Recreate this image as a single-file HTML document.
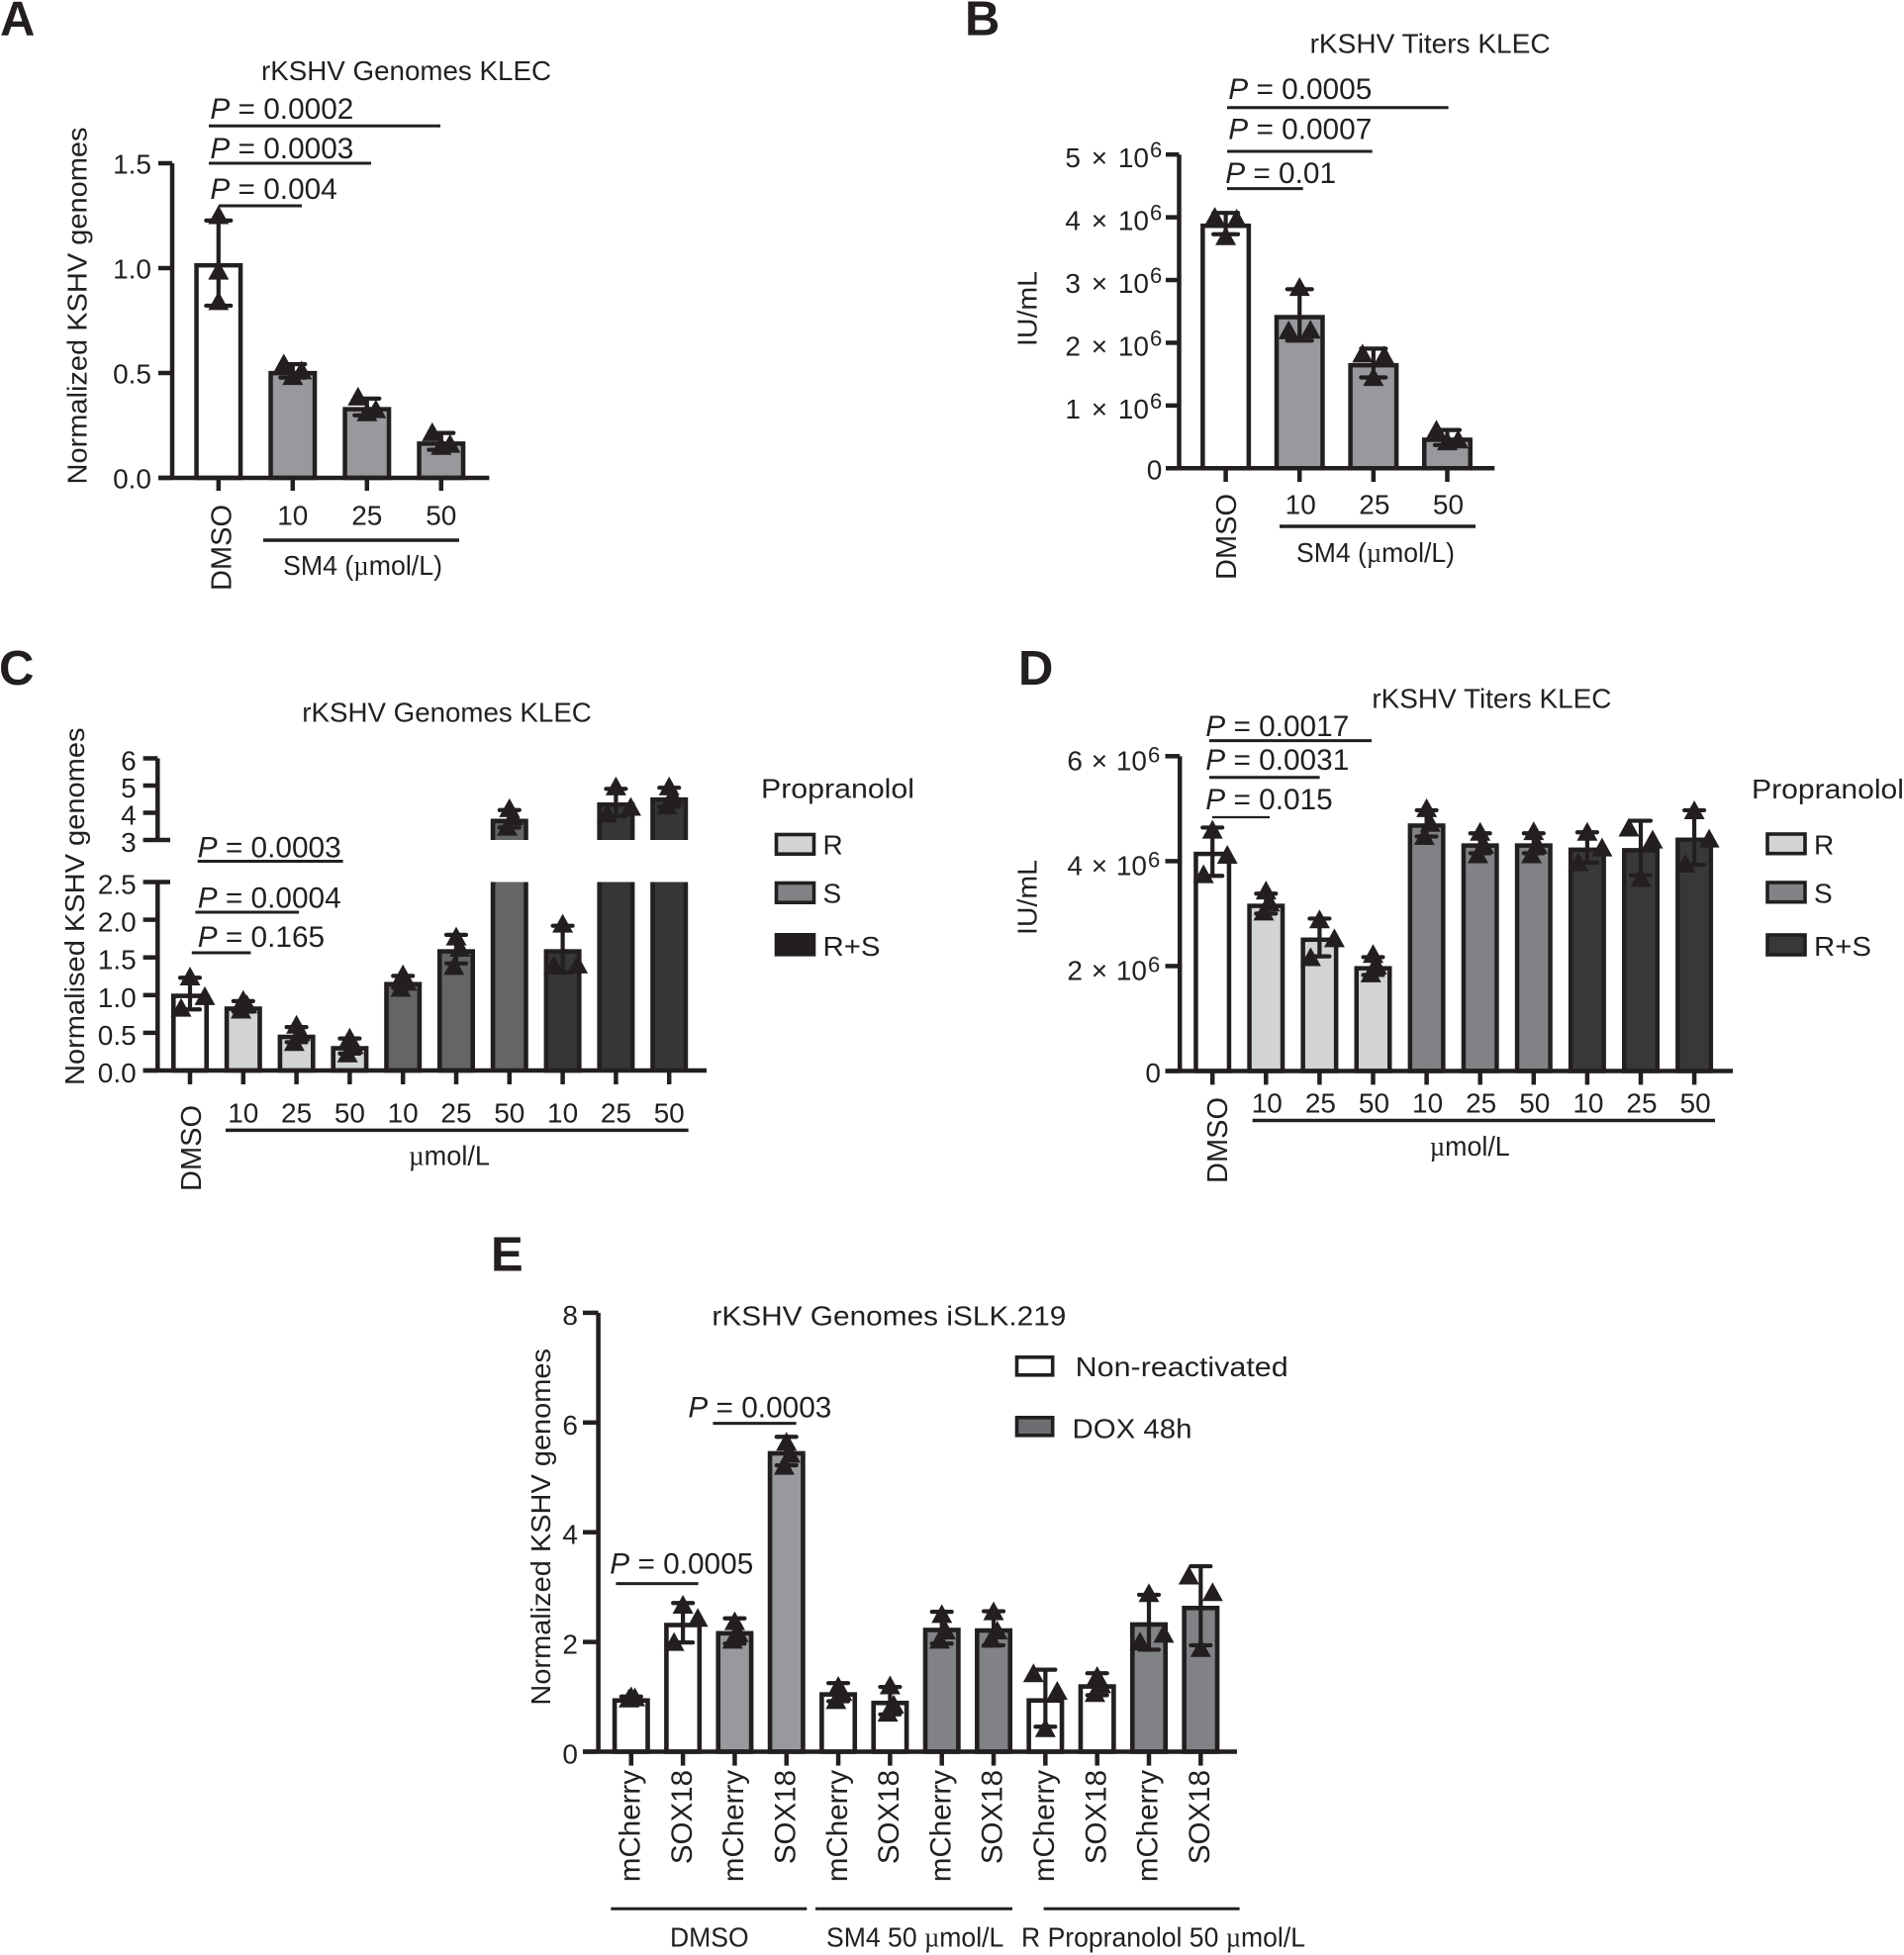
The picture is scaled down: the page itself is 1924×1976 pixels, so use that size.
<!DOCTYPE html>
<html lang="en">
<head>
<meta charset="utf-8">
<title>KSHV genomes and titers</title>
<style>
html,body{margin:0;padding:0;background:#fff;}
svg{display:block;}
text{font-family:"Liberation Sans",sans-serif;font-size:28px;fill:#231f20;}
.letter{font-weight:bold;font-size:49px;}
.p{font-size:29.8px;}
.p tspan{font-style:italic;}
.mu{font-family:"Liberation Serif",serif;}
.line{stroke:#231f20;stroke-width:3;fill:none;}
.sw{stroke:#231f20;stroke-width:3.6;}
</style>
</head>
<body>
<svg id="figure" width="1924" height="1976" viewBox="0 0 1924 1976">
<rect x="0" y="0" width="1924" height="1976" fill="#fff"/>

<g id="panel-a">
<text class="letter" x="0" y="35.6">A</text>
<text x="264" y="81" textLength="293" lengthAdjust="spacingAndGlyphs">rKSHV Genomes KLEC</text>
<text transform="translate(87.3,489.5) rotate(-90)" textLength="361" lengthAdjust="spacingAndGlyphs">Normalized KSHV genomes</text>
<text class="p" x="212.4" y="120"><tspan>P</tspan> = 0.0002</text>
<line class="line" x1="211" x2="445" y1="127.3" y2="127.3"/>
<text class="p" x="212.4" y="160"><tspan>P</tspan> = 0.0003</text>
<line class="line" x1="211" x2="375" y1="165" y2="165"/>
<text class="p" x="212.4" y="201"><tspan>P</tspan> = 0.004</text>
<line class="line" x1="221" x2="305" y1="208" y2="208"/>
<line class="line" style="stroke-width:3.5" x1="266" x2="464" y1="546" y2="546"/>
<text x="286" y="581" textLength="161" lengthAdjust="spacingAndGlyphs">SM4 (<tspan class="mu">µ</tspan>mol/L)</text>
</g>

<g id="panel-b">
<text class="letter" x="975" y="35.6">B</text>
<text x="1323.6" y="53.4" textLength="243" lengthAdjust="spacingAndGlyphs">rKSHV Titers KLEC</text>
<text transform="translate(1047.3,350) rotate(-90)" textLength="76" lengthAdjust="spacingAndGlyphs">IU/mL</text>
<text class="p" x="1241.3" y="100"><tspan>P</tspan> = 0.0005</text>
<line class="line" x1="1240" x2="1463.6" y1="108.7" y2="108.7"/>
<text class="p" x="1241.3" y="140.4"><tspan>P</tspan> = 0.0007</text>
<line class="line" x1="1240" x2="1386.7" y1="153" y2="153"/>
<text class="p" x="1238.2" y="185"><tspan>P</tspan> = 0.01</text>
<line class="line" x1="1240" x2="1316.7" y1="190.6" y2="190.6"/>
<line class="line" style="stroke-width:3.5" x1="1293" x2="1491" y1="532" y2="532"/>
<text x="1310" y="568" textLength="160" lengthAdjust="spacingAndGlyphs">SM4 (<tspan class="mu">µ</tspan>mol/L)</text>
</g>

<g id="panel-c">
<text class="letter" x="-1" y="691.8">C</text>
<text x="305.3" y="729.5" textLength="292.5" lengthAdjust="spacingAndGlyphs">rKSHV Genomes KLEC</text>
<text transform="translate(85,1097) rotate(-90)" textLength="361.5" lengthAdjust="spacingAndGlyphs">Normalised KSHV genomes</text>
<text class="p" x="199.7" y="866.4"><tspan>P</tspan> = 0.0003</text>
<line class="line" x1="199.7" x2="346.6" y1="870.5" y2="870.5"/>
<text class="p" x="199.7" y="917.5"><tspan>P</tspan> = 0.0004</text>
<line class="line" x1="197.4" x2="302" y1="922" y2="922"/>
<text class="p" x="199.7" y="957"><tspan>P</tspan> = 0.165</text>
<line class="line" x1="193.8" x2="253.4" y1="963" y2="963"/>
<line class="line" style="stroke-width:3.5" x1="228" x2="695.6" y1="1142.4" y2="1142.4"/>
<text x="413" y="1177.5" textLength="82" lengthAdjust="spacingAndGlyphs"><tspan class="mu">µ</tspan>mol/L</text>
<g>
<text x="769" y="806.7" textLength="155" lengthAdjust="spacingAndGlyphs">Propranolol</text>
<rect class="sw" x="784.5" y="843.5" width="38" height="19.7" fill="#d1d3d4"/>
<text x="831.5" y="863.3">R</text>
<rect class="sw" x="784.5" y="892.5" width="38" height="19.7" fill="#808285"/>
<text x="831.5" y="912.3">S</text>
<rect class="sw" x="784.5" y="944.8" width="38" height="20" fill="#231f20"/>
<text x="831.5" y="966" textLength="58" lengthAdjust="spacingAndGlyphs">R+S</text>
</g>
</g>

<g id="panel-d">
<text class="letter" x="1029" y="692">D</text>
<text x="1386.4" y="715.4" textLength="242" lengthAdjust="spacingAndGlyphs">rKSHV Titers KLEC</text>
<text transform="translate(1047.5,945) rotate(-90)" textLength="76" lengthAdjust="spacingAndGlyphs">IU/mL</text>
<text class="p" x="1218.3" y="744"><tspan>P</tspan> = 0.0017</text>
<line class="line" x1="1222" x2="1386" y1="748.6" y2="748.6"/>
<text class="p" x="1218.3" y="777.9"><tspan>P</tspan> = 0.0031</text>
<line class="line" x1="1222" x2="1333.6" y1="785.7" y2="785.7"/>
<text class="p" x="1218.3" y="818.2"><tspan>P</tspan> = 0.015</text>
<line class="line" style="stroke-width:2.2" x1="1225" x2="1283" y1="826" y2="826"/>
<line class="line" style="stroke-width:3.5" x1="1265.6" x2="1733" y1="1132.5" y2="1132.5"/>
<text x="1444.7" y="1167.9" textLength="81" lengthAdjust="spacingAndGlyphs"><tspan class="mu">µ</tspan>mol/L</text>
<g>
<text x="1770" y="807" textLength="154" lengthAdjust="spacingAndGlyphs">Propranolol</text>
<rect class="sw" x="1786" y="843" width="38" height="19.7" fill="#d1d3d4"/>
<text x="1833" y="863.3">R</text>
<rect class="sw" x="1786" y="892" width="38" height="19.7" fill="#808285"/>
<text x="1833" y="912.3">S</text>
<rect class="sw" x="1786" y="945" width="38" height="20" fill="#38383a"/>
<text x="1833" y="966" textLength="58" lengthAdjust="spacingAndGlyphs">R+S</text>
</g>
</g>

<g id="panel-e">
<text class="letter" x="496" y="1284.6">E</text>
<text x="719.4" y="1339.5" textLength="358" lengthAdjust="spacingAndGlyphs">rKSHV Genomes iSLK.219</text>
<text transform="translate(556,1723.6) rotate(-90)" textLength="360.6" lengthAdjust="spacingAndGlyphs">Normalized KSHV genomes</text>
<text class="p" x="616.3" y="1590.7"><tspan>P</tspan> = 0.0005</text>
<line class="line" x1="622.4" x2="705.6" y1="1600.6" y2="1600.6"/>
<text class="p" x="695.4" y="1432.5"><tspan>P</tspan> = 0.0003</text>
<line class="line" x1="720.4" x2="804.6" y1="1438.6" y2="1438.6"/>
<line class="line" x1="617.3" x2="815.3" y1="1929.2" y2="1929.2"/>
<line class="line" x1="824" x2="1023" y1="1929.2" y2="1929.2"/>
<line class="line" x1="1054.6" x2="1252.6" y1="1929.2" y2="1929.2"/>
<text x="677" y="1967.7" textLength="79.6" lengthAdjust="spacingAndGlyphs">DMSO</text>
<text x="835" y="1967.7" textLength="179.3" lengthAdjust="spacingAndGlyphs">SM4 50 <tspan class="mu">µ</tspan>mol/L</text>
<text x="1032" y="1967.7" textLength="287" lengthAdjust="spacingAndGlyphs">R Propranolol 50 <tspan class="mu">µ</tspan>mol/L</text>
<g>
<rect class="sw" x="1027.5" y="1371.8" width="36.2" height="18" fill="#fff"/>
<text x="1086.7" y="1391.2" textLength="215" lengthAdjust="spacingAndGlyphs">Non-reactivated</text>
<rect class="sw" x="1027.5" y="1432.8" width="36.2" height="18" fill="#6d6e71"/>
<text x="1083.5" y="1453.6" textLength="121" lengthAdjust="spacingAndGlyphs">DOX 48h</text>
</g>
</g>
</svg>

<script>
// ---- Panel A data ----
const panelACategories = ['DMSO', '10', '25', '50'];
const panelAGroups = ['none', 'gray', 'gray', 'gray'];
const panelAMeans = [1.024, 0.51, 0.338, 0.174];
const panelASDs = [0.203, 0.032, 0.04, 0.04];
const panelAReplicates = [[1.25, 0.985, 0.84], [0.483, 0.51, 0.543], [0.31, 0.325, 0.385], [0.15, 0.16, 0.215]];
const panelATicks = [0, 0.5, 1, 1.5];
const panelATickLabels = ['0.0', '0.5', '1.0', '1.5'];

// ---- Panel B data ----
const panelBCategories = ['DMSO', '10', '25', '50'];
const panelBGroups = ['none', 'gray', 'gray', 'gray'];
const panelBMeans = [3.9e6, 2.444e6, 1.677e6, 0.49e6];
const panelBSDs = [0.17e6, 0.41e6, 0.23e6, 0.12e6];
const panelBReplicates = [[3.69e6, 3.97e6, 4.0e6], [2.88e6, 2.2e6, 2.19e6], [1.446e6, 1.79e6, 1.82e6], [0.42e6, 0.45e6, 0.605e6]];
const panelBTicks = [0, 1e6, 2e6, 3e6, 4e6, 5e6];
const panelBTickLabels = ['0', '1 × 10', '2 × 10', '3 × 10', '4 × 10', '5 × 10'];

// ---- Panel C data ----
const panelCCategories = ['DMSO', '10', '25', '50', '10', '25', '50', '10', '25', '50'];
const panelCGroups = ['none', 'r', 'r', 'r', 's', 's', 's', 'rs', 'rs', 'rs'];
const panelCMeans = [1.02, 0.85, 0.476, 0.325, 1.175, 1.61, 3.78, 1.61, 4.38, 4.57];
const panelCSDs = [0.21, 0.07, 0.1, 0.1, 0.08, 0.19, 0.32, 0.31, 0.5, 0.35];
const panelCReplicates = [[1.24, 0.98, 0.825], [0.93, 0.87, 0.8], [0.6, 0.5, 0.37], [0.43, 0.33, 0.22], [1.27, 1.17, 1.09], [1.77, 1.62, 1.38], [4.15, 3.85, 3.47], [1.94, 1.4, 1.39], [4.95, 4.2, 3.95], [4.95, 4.6, 4.25]];
const panelCTicks = [0, 0.5, 1, 1.5, 2, 2.5, 3, 4, 5, 6];
const panelCTickLabels = ['0.0', '0.5', '1.0', '1.5', '2.0', '2.5', '3', '4', '5', '6'];

// ---- Panel D data ----
const panelDCategories = ['DMSO', '10', '25', '50', '10', '25', '50', '10', '25', '50'];
const panelDGroups = ['none', 'r', 'r', 'r', 's', 's', 's', 'rs', 'rs', 'rs'];
const panelDMeans = [4.18e6, 3.19e6, 2.545e6, 2.0e6, 4.72e6, 4.34e6, 4.34e6, 4.26e6, 4.25e6, 4.45e6];
const panelDSDs = [0.46e6, 0.19e6, 0.36e6, 0.17e6, 0.25e6, 0.19e6, 0.19e6, 0.29e6, 0.52e6, 0.52e6];
const panelDReplicates = [[4.59e6, 4.11e6, 3.74e6], [3.43e6, 3.2e6, 3.03e6], [2.88e6, 2.52e6, 2.16e6], [2.22e6, 2.0e6, 1.85e6], [5.0e6, 4.72e6, 4.47e6], [4.55e6, 4.3e6, 4.12e6], [4.56e6, 4.3e6, 4.12e6], [4.55e6, 4.25e6, 3.97e6], [3.67e6, 4.4e6, 4.63e6], [4.96e6, 4.42e6, 3.94e6]];
const panelDTicks = [0, 2e6, 4e6, 6e6];
const panelDTickLabels = ['0', '2 × 10', '4 × 10', '6 × 10'];

// ---- Panel E data ----
const panelECategories = ['mCherry', 'SOX18', 'mCherry', 'SOX18', 'mCherry', 'SOX18', 'mCherry', 'SOX18', 'mCherry', 'SOX18', 'mCherry', 'SOX18'];
const panelEGroups = ['none', 'none', 'gray', 'gray', 'none', 'none', 'dox', 'dox', 'none', 'none', 'dox', 'dox'];
const panelEMeans = [0.975, 2.35, 2.2, 5.48, 1.085, 0.93, 2.26, 2.25, 0.975, 1.23, 2.36, 2.66];
const panelESDs = [0.03, 0.36, 0.23, 0.26, 0.165, 0.25, 0.29, 0.31, 0.52, 0.2, 0.5, 0.72];
const panelEReplicates = [[1.0, 0.98, 0.96], [2.67, 2.43, 1.99], [2.37, 2.15, 2.03], [5.64, 5.42, 5.2], [1.19, 1.08, 0.93], [1.2, 0.85, 0.7], [2.5, 2.2, 2.03], [2.55, 2.2, 2.05], [0.42, 1.1, 1.42], [1.37, 1.22, 1.06], [2.88, 2.14, 2.0], [1.88, 2.9, 3.2]];
const panelETicks = [0, 2, 4, 6, 8];
const panelETickLabels = ['0', '2', '4', '6', '8'];

// ---- Rendering ----
const INK = '#231f20';
const palette = { none: '#ffffff', gray: '#98999c', dox: '#808285', r: '#d1d3d4', s: '#808285', rs: '#38383a' };
const paletteC = { none: '#ffffff', r: '#d1d3d4', s: '#646567', rs: '#363638' };
const NS = document.getElementById('figure').namespaceURI;

function shape(tag, parent, attrs) {
  const el = document.createElementNS(NS, tag);
  for (const k in attrs) el.setAttribute(k, attrs[k]);
  parent.appendChild(el);
  return el;
}

function drawAxes(g, c) {
  const yAxis = shape('path', g, { d: c.axisPath, fill: 'none', stroke: INK, 'stroke-width': c.axisW });
  
  
  const y0 = c.y(0);
  const xAxis = shape('line', g, { x1: c.tickLeft, x2: c.xEnd, y1: y0, y2: y0, stroke: INK, 'stroke-width': c.axisW });
  
  
  c.ticks.forEach(function (v, i) {
    const yy = c.y(v);
    const long = c.longTicks && c.longTicks.indexOf(v) >= 0;
    const tick = shape('line', g, { x1: c.tickLeft, x2: long ? c.longTickEnd : c.axisX, y1: yy, y2: yy, stroke: INK, 'stroke-width': c.axisW });
    
    
    const str = c.tickLabels[i];
    const sci = str.indexOf('×') >= 0;
    const label = shape('text', g, { x: sci ? c.sciEnd : c.labelRight, y: yy + (sci ? c.sciDy : c.labelDy), 'text-anchor': 'end' });
    
    
    if (sci) label.setAttribute('style', 'word-spacing:' + c.sciSpace + 'px');
    label.textContent = str;
    if (sci) {
      const sup = shape('text', g, { x: c.sciEnd + 1, y: yy + c.supDy, style: 'font-size:22px' });
      
      
      sup.textContent = '6';
    }
  });
  c.categories.forEach(function (name, i) {
    const cx = c.x(i);
    const tick = shape('line', g, { x1: cx, x2: cx, y1: y0, y2: c.tickBottom, stroke: INK, 'stroke-width': c.axisW });
    
    
    const rotated = name.length > 2;
    const label = shape('text', g, rotated
      ? { transform: 'translate(' + (cx + c.rotDx) + ',' + c.rotTop + ') rotate(-90)', 'text-anchor': 'end', style: 'font-size:' + c.rotSize + 'px' }
      : { x: cx + c.catDx, y: c.catY, 'text-anchor': 'middle' });
    
    
    label.textContent = name;
  });
}

function drawBars(g, c) {
  const inner = c.barW - c.barS;
  c.means.forEach(function (m, i) {
    const cx = c.x(i);
    const left = cx - inner / 2;
    const right = cx + inner / 2;
    const fill = c.palette[c.groups[i]];
    const y0 = c.y(0);
    if (c.breakLow !== undefined && m > c.breakLow) {
      const lowTop = c.y(c.breakLow);
      const highBottom = c.y(c.breakHigh);
      const top = c.y(m) + c.barS / 2;
      const low = shape('path', g, { d: 'M' + left + ' ' + y0 + 'L' + left + ' ' + lowTop + 'L' + right + ' ' + lowTop + 'L' + right + ' ' + y0, fill: fill, stroke: 'none' });
      
      
      const lowEdge = shape('path', g, { d: 'M' + left + ' ' + lowTop + 'L' + left + ' ' + y0 + 'M' + right + ' ' + lowTop + 'L' + right + ' ' + y0, fill: 'none', stroke: INK, 'stroke-width': c.barS });
      
      
      const high = shape('path', g, { d: 'M' + left + ' ' + highBottom + 'L' + left + ' ' + top + 'L' + right + ' ' + top + 'L' + right + ' ' + highBottom, fill: fill, stroke: INK, 'stroke-width': c.barS });
      
      
    } else {
      const top = c.y(m) + c.barS / 2;
      const bar = shape('rect', g, { x: left, y: top, width: inner, height: Math.max(0, y0 - top), fill: fill, stroke: INK, 'stroke-width': c.barS });
      
      
    }
  });
}

function drawErrors(g, c) {
  c.means.forEach(function (m, i) {
    const cx = c.x(i);
    const hi = c.y(m + c.sds[i]);
    const lo = c.y(m - c.sds[i]);
    const stem = shape('line', g, { x1: cx, x2: cx, y1: hi, y2: lo, stroke: INK, 'stroke-width': 4.2 });
    
    
    const capTop = shape('line', g, { x1: cx - c.capW / 2, x2: cx + c.capW / 2, y1: hi, y2: hi, stroke: INK, 'stroke-width': 4.2, 'stroke-linecap': 'round' });
    
    
    const capBottom = shape('line', g, { x1: cx - c.capW / 2, x2: cx + c.capW / 2, y1: lo, y2: lo, stroke: INK, 'stroke-width': 4.2, 'stroke-linecap': 'round' });
    
    
  });
}

function drawPoints(g, c) {
  c.replicates.forEach(function (reps, i) {
    const ys = reps.map(c.y).sort(function (a, b) { return a - b; });
    const maxGap = Math.max(ys[1] - ys[0], ys[2] - ys[1]);
    const jit = maxGap < c.tightGap ? c.tightJitter : c.jitter;
    const fan = reps[0] === Math.max.apply(null, reps);
    const sides = fan ? [0, c.fanRight, -c.fanLeft] : [0, 1, -1];
    reps.forEach(function (v, k) {
      const yy = c.y(v);
      const near = reps.some(function (o, j) { return j !== k && Math.abs(c.y(o) - yy) < 30; });
      const px = c.x(i) + (near ? sides[k] * jit : 0);
      const pts = px + ',' + (yy - 10.5) + ' ' + (px - 10.5) + ',' + (yy + 8.5) + ' ' + (px + 10.5) + ',' + (yy + 8.5);
      const point = shape('polygon', g, { points: pts, fill: INK });
      
      
    });
  });
}

function drawPanel(id, c) {
  const g = document.getElementById(id);
  drawBars(g, c);
  drawErrors(g, c);
  drawPoints(g, c);
  drawAxes(g, c);
}

const yA = function (v) { return 483 - v * 212; };
drawPanel('panel-a', {
  categories: panelACategories, groups: panelAGroups, means: panelAMeans, sds: panelASDs, replicates: panelAReplicates,
  ticks: panelATicks, tickLabels: panelATickLabels, palette: palette,
  x: function (i) { return 220.8 + i * 75; }, y: yA,
  axisPath: 'M174 ' + yA(1.5) + 'L174 ' + yA(0), axisX: 174, axisW: 4.5, tickLeft: 160, xEnd: 494.4, tickBottom: 496,
  labelRight: 153, labelDy: 10.7, barW: 49, barS: 4.5, capW: 25, jitter: 9, tightGap: 0, tightJitter: 9, fanRight: 1, fanLeft: 1,
  catDx: 0, catY: 530.6, rotDx: 12.6, rotTop: 510, rotSize: 29
});

const yB = function (v) { return 473.3 - v / 1e6 * 63.42; };
drawPanel('panel-b', {
  categories: panelBCategories, groups: panelBGroups, means: panelBMeans, sds: panelBSDs, replicates: panelBReplicates,
  ticks: panelBTicks, tickLabels: panelBTickLabels, palette: palette,
  x: function (i) { return 1238.6 + i * 74.63; }, y: yB,
  axisPath: 'M1191.5 ' + yB(5e6) + 'L1191.5 ' + yB(0), axisX: 1191.5, axisW: 4.5, tickLeft: 1178, xEnd: 1510.3, tickBottom: 487,
  labelRight: 1174.3, labelDy: 11, sciEnd: 1161, sciDy: 13, sciSpace: 3, supDy: 3, barW: 51, barS: 4.5, capW: 25, jitter: 11, tightGap: 0, tightJitter: 9, fanRight: 1, fanLeft: 1,
  catDx: 1, catY: 519.5, rotDx: 10.4, rotTop: 499, rotSize: 29
});

const yC = function (v) { return v <= 2.5 ? 1082 - v * 76.2 : 849 - (v - 3) * 27.5; };
drawPanel('panel-c', {
  categories: panelCCategories, groups: panelCGroups, means: panelCMeans, sds: panelCSDs, replicates: panelCReplicates,
  ticks: panelCTicks, tickLabels: panelCTickLabels, palette: paletteC,
  x: function (i) { return 192 + i * 53.8; }, y: yC,
  axisPath: 'M159.3 ' + yC(6) + 'L159.3 ' + yC(3) + 'M159.3 ' + yC(2.5) + 'L159.3 ' + yC(0), axisX: 159.3, axisW: 4.5, tickLeft: 144.6, xEnd: 714, tickBottom: 1096,
  longTicks: [2.5, 3], longTickEnd: 172,
  labelRight: 137.7, labelDy: 12, barW: 38, barS: 4.6, capW: 20, jitter: 12, tightGap: 19, tightJitter: 3, fanRight: 1.25, fanLeft: 0.75, breakLow: 2.5, breakHigh: 3,
  catDx: 0, catY: 1134.6, rotDx: 11, rotTop: 1117, rotSize: 29
});

const yD = function (v) { return 1082.5 - v / 1e6 * 53.03; };
drawPanel('panel-d', {
  categories: panelDCategories, groups: panelDGroups, means: panelDMeans, sds: panelDSDs, replicates: panelDReplicates,
  ticks: panelDTicks, tickLabels: panelDTickLabels, palette: palette,
  x: function (i) { return 1225.2 + i * 54.1; }, y: yD,
  axisPath: 'M1192.2 ' + yD(6e6) + 'L1192.2 ' + yD(0), axisX: 1192.2, axisW: 4.5, tickLeft: 1177.5, xEnd: 1751, tickBottom: 1096.4,
  labelRight: 1173, labelDy: 11.5, sciEnd: 1159, sciDy: 14, sciSpace: 1, supDy: 6, barW: 38, barS: 4.5, capW: 20, jitter: 12, tightGap: 15.5, tightJitter: 3, fanRight: 1.25, fanLeft: 0.75,
  catDx: 1, catY: 1124.3, rotDx: 15, rotTop: 1109, rotSize: 29
});

const yE = function (v) { return 1770.5 - v * 55.45; };
drawPanel('panel-e', {
  categories: panelECategories, groups: panelEGroups, means: panelEMeans, sds: panelESDs, replicates: panelEReplicates,
  ticks: panelETicks, tickLabels: panelETickLabels, palette: palette,
  x: function (i) { return 637.8 + i * 52.32; }, y: yE,
  axisPath: 'M604.6 ' + yE(8) + 'L604.6 ' + yE(0), axisX: 604.6, axisW: 4.5, tickLeft: 589, xEnd: 1250, tickBottom: 1784.6,
  labelRight: 584, labelDy: 12, barW: 38, barS: 4.6, capW: 20, jitter: 12, tightGap: 20, tightJitter: 3, fanRight: 1.25, fanLeft: 0.75,
  catDx: 0, catY: 0, rotDx: 8.7, rotTop: 1789, rotSize: 29.5
});
</script>
</body>
</html>
